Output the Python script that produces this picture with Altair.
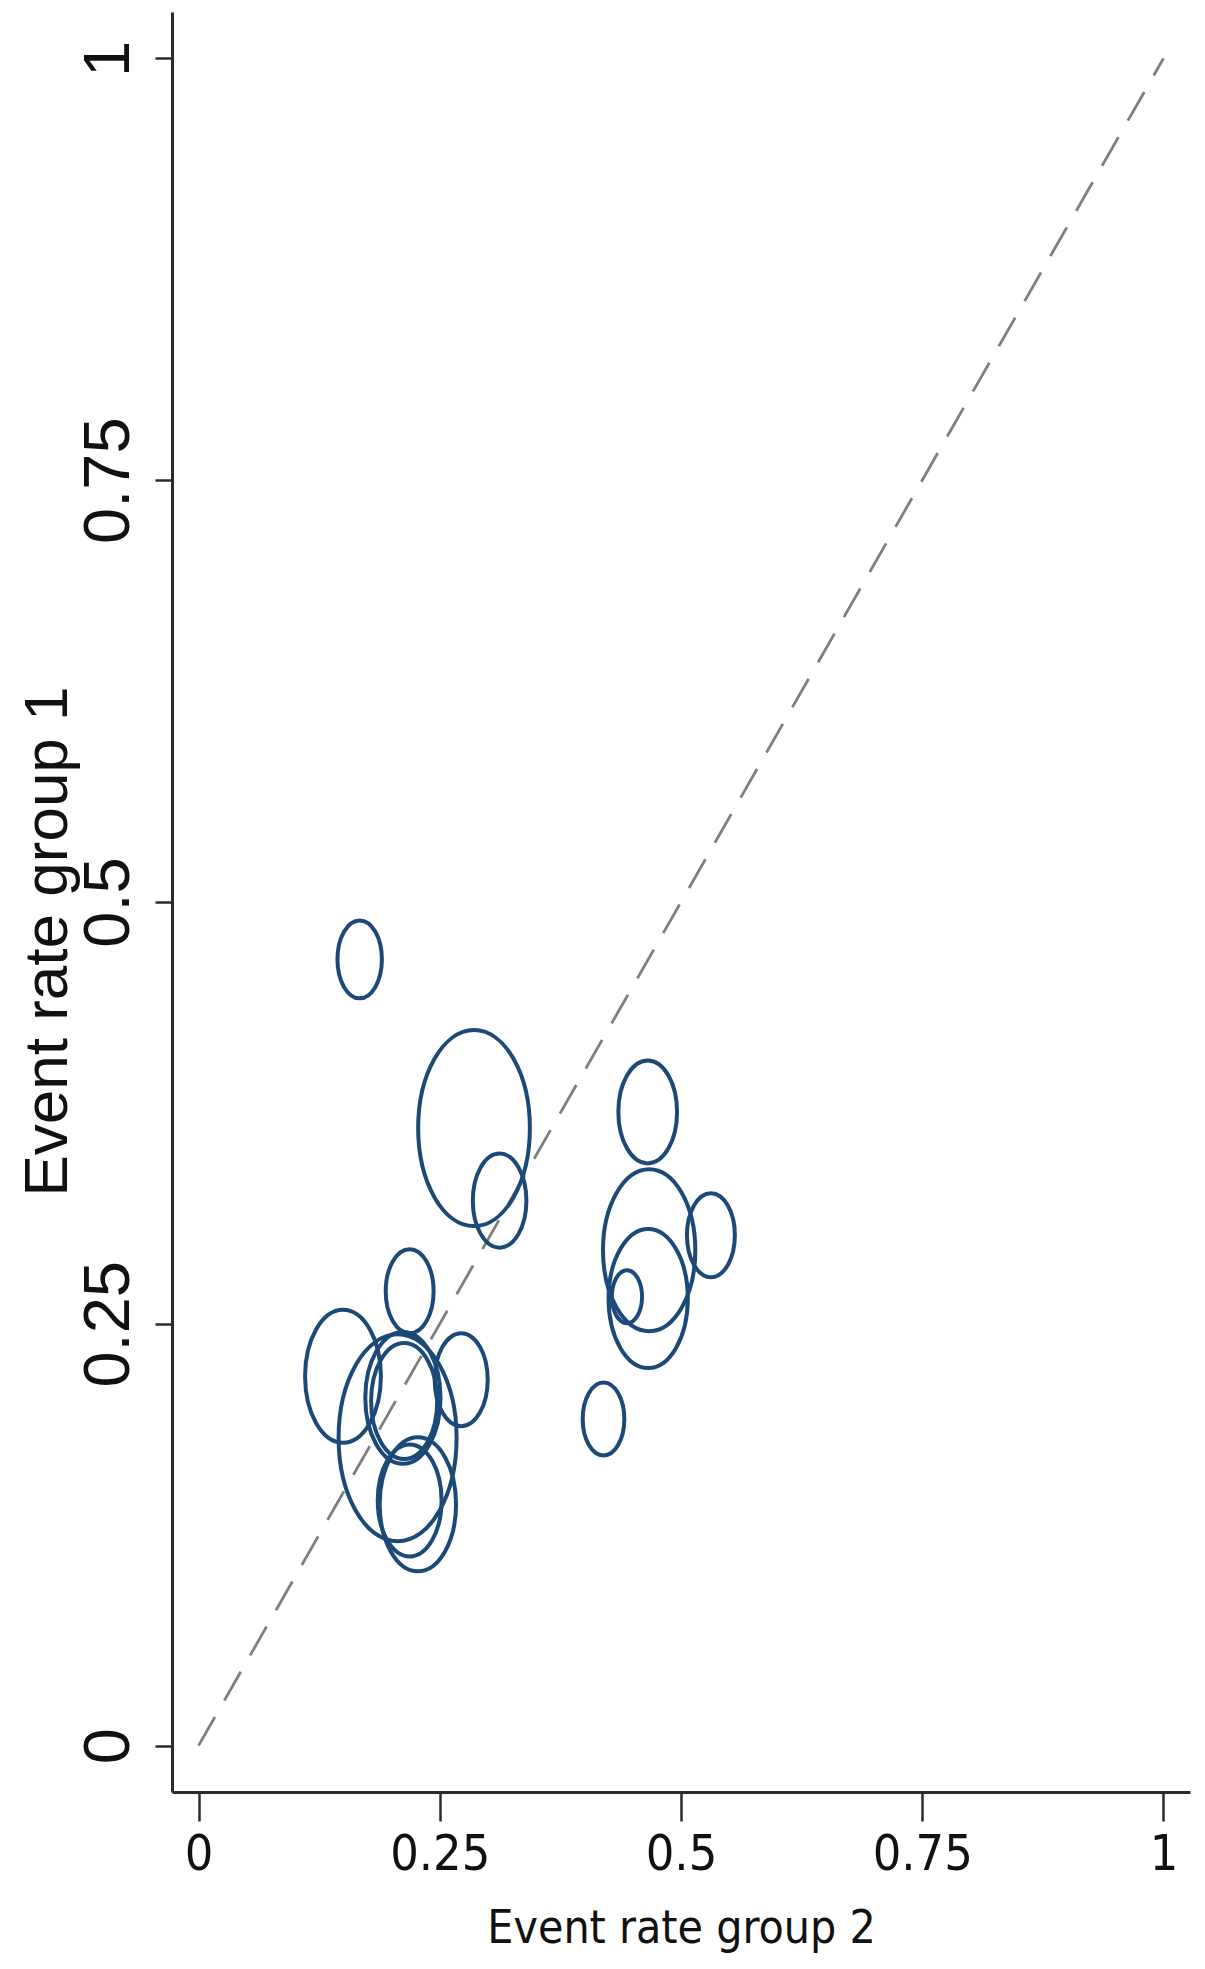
import altair as alt
import pandas as pd

# Event rates (x = group 2, y = group 1) and relative study weights
rate_group2 = [0.167, 0.2855, 0.312, 0.4655, 0.467, 0.531, 0.466, 0.444, 0.4197,
               0.2188, 0.1497, 0.2722, 0.2063, 0.2118, 0.2131, 0.2273, 0.2188]
rate_group1 = [0.466, 0.366, 0.323, 0.3756, 0.2936, 0.3025, 0.265, 0.266, 0.1936,
               0.2693, 0.2189, 0.2169, 0.1824, 0.2061, 0.2043, 0.143, 0.1453]
study_weight = [60.8, 384.2, 88.4, 106.1, 262.4, 70.6, 193.2, 28.1, 53.3,
                70.6, 176.9, 86.5, 428.5, 174.2, 134.6, 179.6, 125.4]
tick_values = [0, 0.25, 0.5, 0.75, 1]
tick_labels = ["0", "0.25", "0.5", "0.75", "1"]
diag_values = [0, 1]

df = pd.DataFrame({"g2": rate_group2, "g1": rate_group1, "w": study_weight})
line_df = pd.DataFrame({"g2": diag_values, "g1": diag_values})

label_map = "{" + ",".join(f"'{v}':'{t}'" for v, t in zip(tick_values, tick_labels)) + "}"
label_expr = f"{label_map}[toString(datum.value)]"

dom = [-0.0275, 1.0275]
NARROW = "Liberation Sans Narrow, Arial Narrow, DejaVu Sans Condensed, Liberation Sans, Arial, sans-serif"
REG = "Liberation Sans, Arial, sans-serif"
AX = "#2b2b2b"

ellipse = ("M0,-1C0.3148,-1,0.57,-0.5523,0.57,0C0.57,0.5523,0.3148,1,0,1"
           "C-0.3148,1,-0.57,0.5523,-0.57,0C-0.57,-0.5523,-0.3148,-1,0,-1Z")

x_axis = alt.Axis(
    values=tick_values, labelExpr=label_expr, grid=False,
    domainColor=AX, domainWidth=3, tickColor=AX, tickWidth=2.5, tickSize=29,
    labelPadding=8, labelFont=NARROW, labelFontSize=50, labelColor="#111111",
    labelFlush=False, labelOverlap=False,
    titleFont=NARROW, titleFontSize=46, titleFontWeight="normal", titleColor="#111111",
    titleX=509, titleY=150, titleBaseline="alphabetic", titleAlign="center",
)
y_axis = alt.Axis(
    values=tick_values, labelExpr=label_expr, grid=False,
    domainColor=AX, domainWidth=3, tickColor=AX, tickWidth=2.5, tickSize=17,
    labelAngle=-90, labelAlign="center", labelBaseline="alphabetic",
    labelPadding=27, labelFont=REG, labelFontSize=65, labelColor="#111111",
    labelFlush=False, labelOverlap=False,
    titleFont=REG, titleFontSize=62, titleFontWeight="normal", titleColor="#111111",
    titleAngle=270, titleX=-106, titleY=929, titleBaseline="alphabetic", titleAlign="center",
)

xs = alt.Scale(domain=dom, nice=False, zero=False)
ys = alt.Scale(domain=dom, nice=False, zero=False)

line = alt.Chart(line_df).mark_line(
    strokeDash=[33, 19], color="#7f7f7f", strokeWidth=2.8
).encode(
    x=alt.X("g2:Q", scale=xs, axis=x_axis, title="Event rate group 2"),
    y=alt.Y("g1:Q", scale=ys, axis=y_axis, title="Event rate group 1"),
)

points = alt.Chart(df).mark_point(
    shape=ellipse, filled=False, strokeWidth=4, color="#1c4a78", opacity=1
).encode(
    x=alt.X("g2:Q", scale=xs, axis=x_axis, title="Event rate group 2"),
    y=alt.Y("g1:Q", scale=ys, axis=y_axis, title="Event rate group 1"),
    size=alt.Size("w:Q", scale=alt.Scale(domain=[0, 500], range=[0, 50000]), legend=None),
)

chart = alt.layer(line, points).properties(
    width=1018, height=1780,
    autosize=alt.AutoSizeParams(type="none"),
    padding={"left": 164, "top": 4, "right": 5, "bottom": 168},
    background="white",
).configure_view(strokeWidth=0)

chart.save("out.html", embed_options={"renderer": "svg", "actions": False})
